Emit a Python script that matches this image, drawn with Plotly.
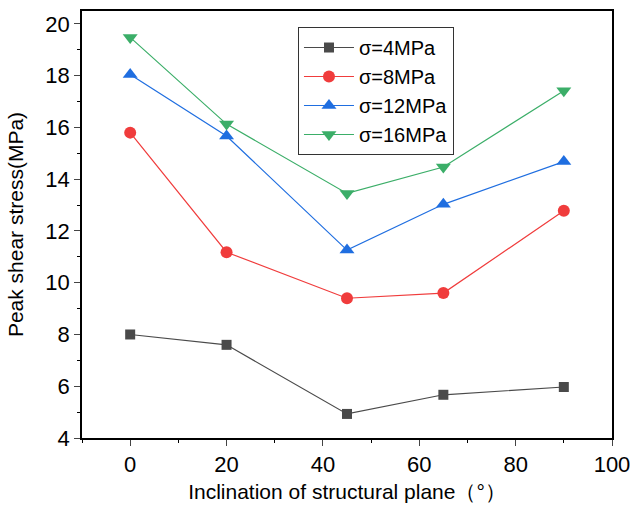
import plotly.graph_objects as go

angles = [0, 20, 45, 65, 90]
s4 = [8.0, 7.6, 4.93, 5.67, 5.97]
s8 = [15.8, 11.18, 9.4, 9.6, 12.78]
s12 = [18.05, 15.67, 11.26, 13.03, 14.68]
s16 = [19.48, 16.13, 13.45, 14.47, 17.42]
names = ["σ=4MPa", "σ=8MPa", "σ=12MPa", "σ=16MPa"]
colors = ["#4a4a4a", "#F03C3C", "#1F6EE0", "#3BAE68"]
symbols = ["square", "circle", "triangle-up", "triangle-down"]
sizes = [10, 12, 13, 13]

fig = go.Figure()
for vals, name, c, sym, sz in zip([s4, s8, s12, s16], names, colors, symbols, sizes):
    fig.add_trace(go.Scatter(x=angles, y=vals, name=name, mode="lines+markers",
                             line=dict(color=c, width=1.2),
                             marker=dict(symbol=sym, size=sz, color=c)))

font = "Liberation Sans, Arial, sans-serif"
fig.update_layout(
    width=632, height=509,
    margin=dict(l=82, r=20, t=11, b=71),
    plot_bgcolor="white", paper_bgcolor="white",
    font=dict(family=font, size=21, color="black"),
    showlegend=True,
    legend=dict(x=0.4075, y=0.9625, xanchor="left", yanchor="top",
                bordercolor="#333", borderwidth=1, bgcolor="white",
                font=dict(family=font, size=20, color="black"), itemwidth=50, tracegroupgap=0),
    xaxis=dict(range=[-10, 100], dtick=20, tick0=0, ticks="outside", ticklen=6,
               tickfont=dict(family=font, size=22, color="black"), automargin=False,
               showline=True, linecolor="black", linewidth=1.5, mirror=True,
               showgrid=False, zeroline=False,
               minor=dict(dtick=10, tick0=0, ticks="outside", ticklen=3, tickcolor="black"),
               title=dict(text="Inclination of structural plane（°）",
                          font=dict(family=font, size=21, color="black"), standoff=8)),
    yaxis=dict(range=[4, 20.5], dtick=2, tick0=4, ticks="outside", ticklen=6,
               tickfont=dict(family=font, size=22, color="black"), automargin=False,
               showline=True, linecolor="black", linewidth=1.5, mirror=True,
               showgrid=False, zeroline=False,
               minor=dict(dtick=1, ticks="outside", ticklen=3, tickcolor="black"),
               title=dict(text="Peak shear stress(MPa)",
                          font=dict(family=font, size=21, color="black"), standoff=16)),
)
fig.write_html("out.html")
